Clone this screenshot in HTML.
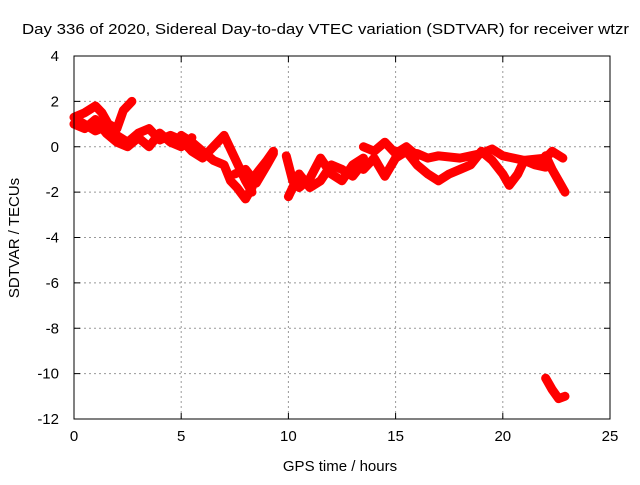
<!DOCTYPE html>
<html><head><meta charset="utf-8"><style>
body{margin:0;background:#fff}
svg text{font-family:"Liberation Sans",sans-serif;font-size:14px;fill:#000}
</style></head><body>
<svg id="c" width="640" height="480">
<rect width="640" height="480" fill="#fff"/>
<g id="grid"></g><g id="data"></g><g id="axes"></g>
<text x="22" y="34" textLength="607" lengthAdjust="spacingAndGlyphs" style="font-size:15px">Day 336 of 2020, Sidereal Day-to-day VTEC variation (SDTVAR) for receiver wtzr</text>
<text x="340" y="471" text-anchor="middle" style="font-size:15px">GPS time / hours</text>
<text transform="translate(19,238) rotate(-90)" text-anchor="middle" style="font-size:15px">SDTVAR / TECUs</text>
</svg>
<script>
const xTicks=[0,5,10,15,20,25];
const yTicks=[4,2,0,-2,-4,-6,-8,-10,-12];
const tracks=[
[[0,1.3],[0.5,1.5],[1,1.8],[1.3,1.5],[1.6,1.0],[2,0.8],[2.3,1.6],[2.7,2.0]],
[[0,1.0],[0.5,0.8],[1,1.2],[1.5,0.6],[2,0.2],[2.5,0.0],[3,0.4],[3.5,0.0],[4,0.6],[4.5,0.2],[5,0.0],[5.5,0.4]],
[[0.3,1.1],[1,0.7],[1.5,0.9],[2,0.5],[2.5,0.2],[3,0.6],[3.5,0.8],[4,0.3],[4.5,0.5],[5,0.3],[5.5,-0.2],[6,-0.5],[6.5,0.0],[7,0.5],[7.5,-0.5],[8,-1.5],[8.3,-2.0]],
[[5,0.5],[5.5,0.2],[6,-0.2],[6.5,-0.6],[7,-0.8],[7.3,-1.5],[7.6,-1.8],[8,-2.3],[8.3,-1.8],[8.5,-1.2],[9,-0.6],[9.3,-0.2]],
[[7.5,-1.2],[8,-1.0],[8.5,-1.6],[9,-0.8],[9.3,-0.3]],
[[9.9,-0.4],[10.2,-1.5],[10.5,-1.8],[11,-1.4],[11.5,-0.5],[12,-1.2],[12.5,-1.5],[13,-0.8],[13.5,-0.5]],
[[10,-2.2],[10.5,-1.2],[11,-1.8],[11.5,-1.5],[12,-0.8],[12.5,-1.0],[13,-1.3],[13.5,-0.7]],
[[13.5,0.0],[14,-0.2],[14.5,0.2],[15,-0.3],[15.5,0.0],[16,-0.4]],
[[13.5,-1.0],[14,-0.5],[14.5,-1.3],[15,-0.5],[15.5,-0.2],[16,-0.8],[16.5,-1.2],[17,-1.5],[17.5,-1.2],[18,-1.0],[18.5,-0.8],[19,-0.2],[19.5,-0.6],[20,-1.2],[20.3,-1.7],[20.7,-1.2],[21,-0.6],[21.5,-0.8],[22,-0.9]],
[[15,-0.2],[16,-0.3],[16.5,-0.5],[17,-0.4],[18,-0.5],[19,-0.3],[19.5,-0.1],[20,-0.4],[21,-0.6],[22,-0.5],[22.3,-0.2],[22.8,-0.5]],
[[22,-0.4],[22.3,-1.0],[22.6,-1.5],[22.9,-2.0]],
[[22.0,-10.2],[22.3,-10.7],[22.6,-11.1],[22.9,-11.0]]
];
const X0=74,X1=610,Y0=56,Y1=419;
const sx=t=>X0+(t-0)/(25-0)*(X1-X0);
const sy=v=>Y0+(4-v)/(4-(-12))*(Y1-Y0);
const NS="http://www.w3.org/2000/svg";
function mk(tag,at,parent){const e=document.createElementNS(NS,tag);for(const k in at)e.setAttribute(k,at[k]);parent.appendChild(e);return e;}
const G=document.getElementById('grid'),D=document.getElementById('data'),A=document.getElementById('axes');
xTicks.forEach(t=>{
 if(t>0&&t<25){const l=mk('line',{x1:sx(t),x2:sx(t),y1:Y0,y2:Y1,stroke:'#999','stroke-dasharray':'2,3'},G);
 
 }
 mk('line',{x1:sx(t),x2:sx(t),y1:Y1,y2:Y1-6,stroke:'#000'},A);
 mk('line',{x1:sx(t),x2:sx(t),y1:Y0,y2:Y0+6,stroke:'#000'},A);
 const tx=mk('text',{x:sx(t),y:Y1+22,'text-anchor':'middle',style:'font-size:15px'},A);tx.textContent=t;
 
 
});
yTicks.forEach(v=>{
 if(v<4&&v>-12){const l=mk('line',{x1:X0,x2:X1,y1:sy(v),y2:sy(v),stroke:'#999','stroke-dasharray':'2,3'},G);
 
 }
 mk('line',{x1:X0,x2:X0+6,y1:sy(v),y2:sy(v),stroke:'#000'},A);
 mk('line',{x1:X1,x2:X1-6,y1:sy(v),y2:sy(v),stroke:'#000'},A);
 const tx=mk('text',{x:X0-15,y:sy(v)+5,'text-anchor':'end',style:'font-size:15px'},A);tx.textContent=v;
 
 
});
const fr=mk('rect',{x:X0,y:Y0,width:X1-X0,height:Y1-Y0,fill:'none',stroke:'#000'},A);


tracks.forEach((tr,i)=>{
 const p=mk('polyline',{points:tr.map(d=>sx(d[0])+','+sy(d[1])).join(' '),fill:'none',stroke:'#f00','stroke-width':9,'stroke-linejoin':'round','stroke-linecap':'round'},D);
 
 
});
</script>
</body></html>
